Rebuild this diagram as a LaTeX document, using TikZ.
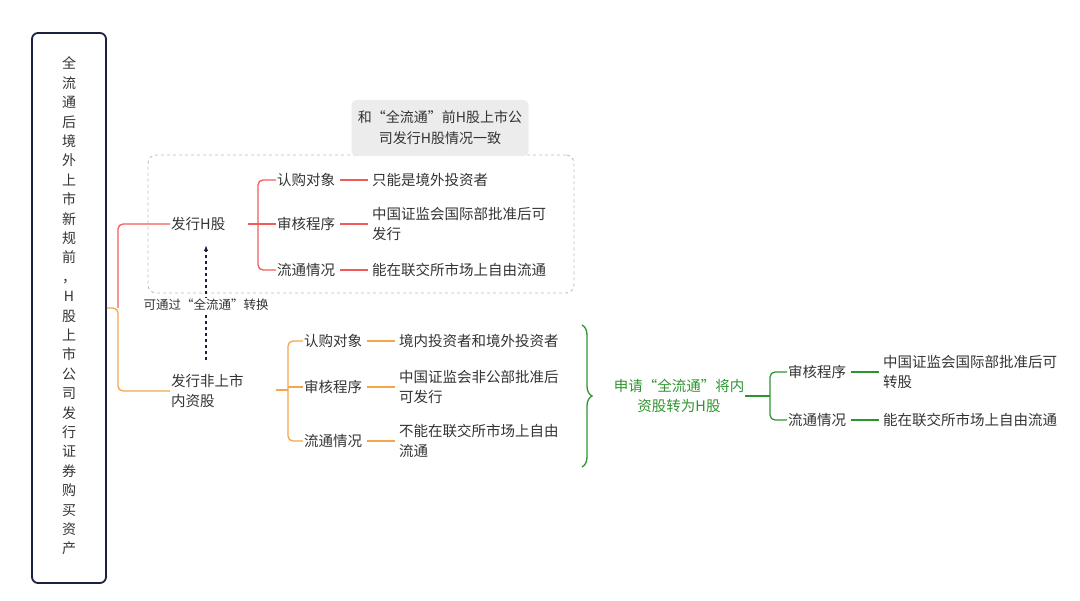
\documentclass[tikz,border=0pt]{standalone}
\usepackage{fontspec}
\setmainfont{Noto Sans CJK SC}
\usetikzlibrary{decorations.pathreplacing,arrows.meta}
\definecolor{cred}{HTML}{F25A5A}
\definecolor{cora}{HTML}{F5A54A}
\definecolor{cgrn}{HTML}{2E952E}
\definecolor{cnav}{HTML}{1C2140}
\definecolor{ctxt}{HTML}{333333}
\begin{document}
\begin{tikzpicture}[x=1pt,y=-1pt,
  txt/.style={font=\fontsize{14.5}{20}\selectfont,text=ctxt,anchor=west,inner sep=1pt,align=left},
  gtxt/.style={txt,text=cgrn},
  rl/.style={draw=cred,line width=1.3pt,rounded corners=5pt},
  ol/.style={draw=cora,line width=1.3pt,rounded corners=5pt},
  gl/.style={draw=cgrn,line width=1.3pt,rounded corners=5pt}]
\useasboundingbox (0,0) rectangle (1080,601);
% left box
\node[draw=cnav,line width=1.8pt,rounded corners=6pt,minimum width=74pt,minimum height=550pt] (root) at (69,308) {};
\node[font=\fontsize{14}{19.4}\selectfont,text=ctxt,align=center] (roottxt) at (69,306) {全\\流\\通\\后\\境\\外\\上\\市\\新\\规\\前\\，\\H\\股\\上\\市\\公\\司\\发\\行\\证\\券\\购\\买\\资\\产};
% dashed group
\node[draw=gray!50,dashed,line width=0.9pt,rounded corners=8pt,minimum width=426pt,minimum height=138pt] (grp) at (361,224) {};
\node[fill=gray!15,rounded corners=5pt,minimum width=177pt,minimum height=56pt,font=\fontsize{14}{21}\selectfont,text=ctxt,align=center] (note) at (440,128) {和“全流通”前H股上市公\\司发行H股情况一致};
% level 1
\node[txt] (h) at (170,224) {发行H股};
\node[txt] (nh) at (170,391) {发行非上市\\内资股};
\coordinate (j) at (118,308);
\draw[ol] (root.east |- j) -- (j) |- (nh.west);
\draw[rl] (j) |- (h.west);
% arrow
\coordinate (a1) at (206,360);
\coordinate (a2) at (206,245);
\draw[cnav,dashed,line width=1.2pt,-{Latex[length=6pt]}] (a1) -- (a2);
\node[font=\fontsize{12.5}{14}\selectfont,text=ctxt,fill=white,inner sep=1pt] (al) at (206,305) {可通过“全流通”转换};
% H branch
\node[txt] (h1) at (276,180) {认购对象};
\node[txt] (h2) at (276,224) {审核程序};
\node[txt] (h3) at (276,270) {流通情况};
\node[txt] (hv1) at (371,180) {只能是境外投资者};
\node[txt] (hv2) at (371,224) {中国证监会国际部批准后可\\发行};
\node[txt] (hv3) at (371,270) {能在联交所市场上自由流通};
\coordinate (hj) at (258,224);
\draw[rl] (248,224) -- (hj);
\draw[rl] (hj) |- (h1.west);
\draw[rl] (hj) |- (h3.west);
\draw[rl] (hj) -- (h2.west);
\foreach \i in {1,2,3}{\draw[cred,line width=1.3pt] ([xshift=4pt]h\i.east) -- ([xshift=-3pt]h\i.east -| hv1.west);}
% non-H branch
\node[txt] (n1) at (303,341) {认购对象};
\node[txt] (n2) at (303,387) {审核程序};
\node[txt] (n3) at (303,441) {流通情况};
\node[txt] (nv1) at (398,341) {境内投资者和境外投资者};
\node[txt] (nv2) at (398,387) {中国证监会非公部批准后\\可发行};
\node[txt] (nv3) at (398,441) {不能在联交所市场上自由\\流通};
\coordinate (nj) at (288,390);
\draw[ol] (276,390) -- (nj);
\draw[ol] (nj) |- (n1.west);
\draw[ol] (nj) |- (n3.west);
\draw[ol] (nj |- n2.west) -- (n2.west);
\foreach \i in {1,2,3}{\draw[cora,line width=1.3pt] ([xshift=4pt]n\i.east) -- ([xshift=-3pt]n\i.east -| nv1.west);}
% brace
\coordinate (b1) at (582,325);
\coordinate (b2) at (582,467);
\draw[cgrn,line width=1.3pt,decorate,decoration={brace,amplitude=10pt}] (b1) -- (b2);
\node[gtxt,align=center,anchor=center] (g) at (679,396) {申请“全流通”将内\\资股转为H股};
% green branch
\node[txt] (g1) at (787,372) {审核程序};
\node[txt] (g2) at (787,420) {流通情况};
\node[txt] (gv1) at (882,372) {中国证监会国际部批准后可\\转股};
\node[txt] (gv2) at (882,420) {能在联交所市场上自由流通};
\coordinate (gj) at (770,396);
\draw[gl] (g.east) -- (gj);
\draw[gl] (gj) |- (g1.west);
\draw[gl] (gj) |- (g2.west);
\foreach \i in {1,2}{\draw[cgrn,line width=1.3pt] ([xshift=4pt]g\i.east) -- ([xshift=-3pt]g\i.east -| gv1.west);}
\end{tikzpicture}
\end{document}
